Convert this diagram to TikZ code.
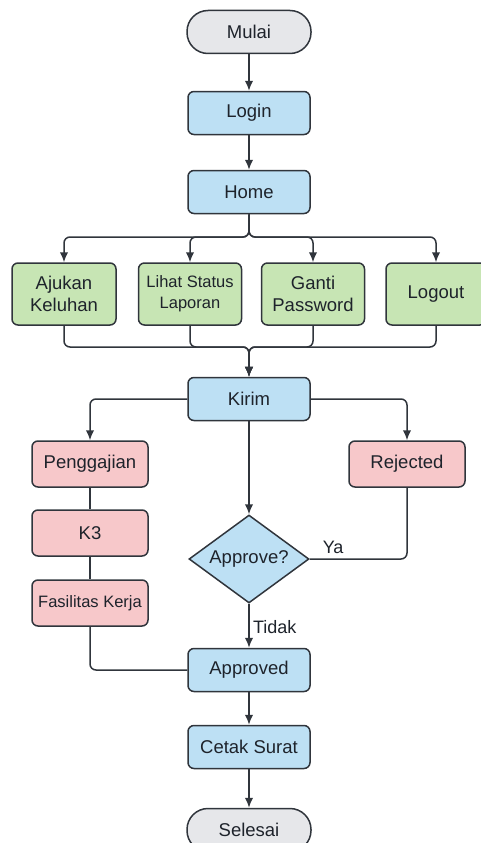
\documentclass[tikz,border=0pt]{standalone}
\usepackage{fontspec}
\setmainfont{Liberation Sans}
\usetikzlibrary{shapes.geometric,arrows.meta}

\definecolor{inkline}{HTML}{30353C}
\definecolor{inktext}{HTML}{1E232B}
\definecolor{bluebox}{HTML}{BDE0F4}
\definecolor{greenbox}{HTML}{C7E5B4}
\definecolor{redbox}{HTML}{F7C8CA}
\definecolor{greybox}{HTML}{E6E7EA}

\tikzset{
  base/.style={draw=inkline, line width=1.5pt, text=inktext, align=center,
    font=\fontsize{18.5}{22}\selectfont},
  smalltext/.style={font=\fontsize{16.5}{21}\selectfont},
  terminal/.style={base, rounded corners=21pt, fill=greybox, minimum width=124pt, minimum height=43pt},
  process/.style={base, rounded corners=6pt, fill=bluebox, minimum width=122pt, minimum height=43pt},
  menu/.style={base, rounded corners=6pt, fill=greenbox, minimum width=103pt, minimum height=62pt, inner sep=2pt},
  kategori/.style={base, rounded corners=6pt, fill=redbox, minimum width=116pt, minimum height=46pt, inner sep=2pt},
  decision/.style={base, diamond, aspect=1.4, fill=bluebox, inner sep=0pt, minimum width=120pt, minimum height=88pt},
  flow/.style={draw=inkline, line width=1.5pt, rounded corners=6pt},
  arrow/.style={flow, -{Latex[length=10pt,width=8.5pt]}},
  edgelabel/.style={text=inktext, font=\fontsize{18}{20}\selectfont},
}

\begin{document}
\begin{tikzpicture}[x=1pt, y=-1pt]
  \useasboundingbox (0,0) rectangle (481,843);

  \node[terminal] (mulai) at (249,32) {Mulai};
  \node[process] (login) at (249,113) {Login};
  \node[process] (home) at (249,192) {Home};

  \node[menu, minimum width=104pt] (ajukan) at (64,294) {Ajukan\\Keluhan};
  \node[menu, smalltext] (status) at (190,294) {Lihat Status\\Laporan};
  \node[menu] (ganti) at (313,294) {Ganti\\Password};
  \node[menu, minimum width=100pt] (logout) at (436,294) {Logout};

  \node[process] (kirim) at (249,399) {Kirim};
  \node[kategori] (gaji) at (90,464) {Penggajian};
  \node[kategori] (kthree) at (90,533) {K3};
  \node[kategori, smalltext] (fasilitas) at (90,603) {Fasilitas Kerja};
  \node[kategori] (rejected) at (407,464) {Rejected};
  \node[decision] (approve) at (249,559) {Approve?};
  \node[process] (approved) at (249,670) {Approved};
  \node[process] (cetak) at (249,747) {Cetak Surat};
  \node[terminal] (selesai) at (249,830) {Selesai};

  \coordinate (split) at (249,237);
  \coordinate (join) at (249,347);

  \draw[arrow] (mulai) -- (login);
  \draw[arrow] (login) -- (home);
  \foreach \m in {ajukan,status,ganti,logout} {
    \draw[arrow] (home) -- (split) -| (\m);
    \draw[arrow] (\m) |- (join) -- (kirim);
  }

  \draw[arrow] (kirim) -| (gaji);
  \draw[arrow] (kirim) -| (rejected);
  \draw[arrow] (kirim) -- (approve);
  \draw[flow] (gaji) -- (kthree);
  \draw[flow] (kthree) -- (fasilitas);
  \draw[flow] (fasilitas) |- (approved);
  \draw[flow] (approve) -| (rejected) node[edgelabel, pos=0.12, above=1pt] {Ya};
  \draw[arrow] (approve) -- (approved) node[edgelabel, midway, right, yshift=-1pt] {Tidak};
  \draw[arrow] (approved) -- (cetak);
  \draw[arrow] (cetak) -- (selesai);
\end{tikzpicture}
\end{document}
